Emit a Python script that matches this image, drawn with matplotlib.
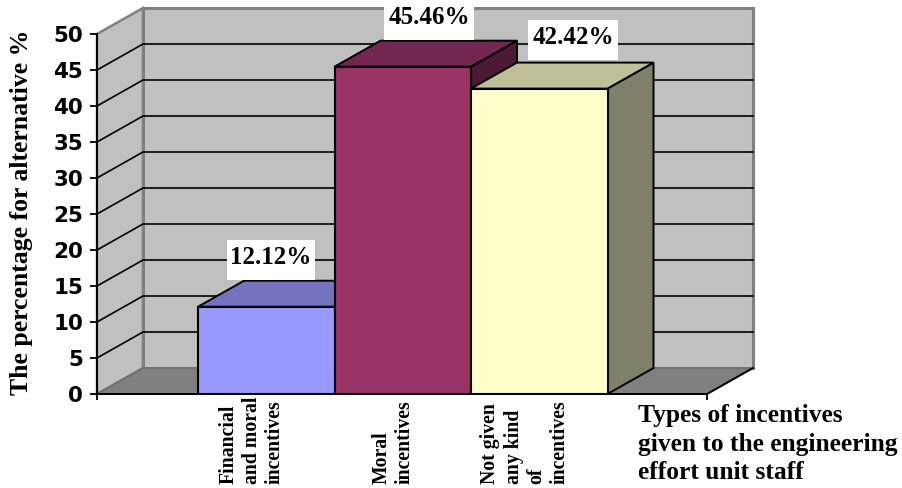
import matplotlib
matplotlib.use('Agg')
import matplotlib.pyplot as plt
from matplotlib.patches import Polygon

categories = ['Financial\nand moral\nincentives', 'Moral\nincentives', 'Not given\nany kind\nof\nincentives']
values = [12.12, 45.46, 42.42]
value_labels = ['12.12%', '45.46%', '42.42%']
y_ticks = [0, 5, 10, 15, 20, 25, 30, 35, 40, 45, 50]
front_colors = ['#9999ff', '#993366', '#ffffcc']
top_colors = ['#7373bf', '#732650', '#bfbf99']
side_colors = ['#5c5c99', '#4d1a33', '#80806a']

W, H = 902, 488
SERIF = 'Liberation Serif'

# plot box in pixels, one bar is one x unit
X0, X1, Y0, Y50 = 97, 707, 394, 34
BAR_PX = 136.5
X_MIN = -(198 - 97) / BAR_PX - 0.5
X_MAX = X_MIN + (X1 - X0) / BAR_PX
DX = 46 / BAR_PX
DY = 26 / ((Y0 - Y50) / 50)

fig = plt.figure(figsize=(W / 100, H / 100), dpi=100)
ax = fig.add_axes([X0 / W, 1 - Y0 / H, (X1 - X0) / W, (Y0 - Y50) / H])
ax.set_xlim(X_MIN, X_MAX)
ax.set_ylim(0, 50)
ax.patch.set_visible(False)


def poly(pts, face, edge='black', lw=1.4, z=2):
    ax.add_patch(Polygon(pts, closed=True, facecolor=face, edgecolor=edge, linewidth=lw,
                         zorder=z, clip_on=False, joinstyle='miter'))


# walls and floor
poly([(X_MIN, 0), (X_MIN + DX, DY), (X_MIN + DX, 50 + DY), (X_MIN, 50)], '#c0c0c0', '#808080', 1.8, 1)
poly([(X_MIN + DX, DY), (X_MAX + DX, DY), (X_MAX + DX, 50 + DY), (X_MIN + DX, 50 + DY)], '#c0c0c0', '#808080', 2.2, 1)
poly([(X_MIN, 0), (X_MAX, 0), (X_MAX + DX, DY), (X_MIN + DX, DY)], '#808080', '#6e6e6e', 1.2, 1.2)
ax.plot([X_MIN, X_MAX, X_MAX + DX], [0, 0, DY], color='black', lw=1.4, zorder=1.3, clip_on=False)

# grid lines, side wall and back wall
for t in y_ticks[1:-1]:
    ax.plot([X_MIN, X_MIN + DX, X_MAX + DX], [t, t + DY, t + DY], color='black', lw=1.2,
            zorder=1.4, clip_on=False, solid_joinstyle='miter')

# bars, left to right so each one covers the side of the last
for i, v in enumerate(values):
    left, right = i - 0.5, i + 0.5
    z = 3 + i
    poly([(right, 0), (right + DX, DY), (right + DX, v + DY), (right, v)], side_colors[i], z=z)
    poly([(left, v), (right, v), (right + DX, v + DY), (left + DX, v + DY)], top_colors[i], z=z)
    ax.bar(i, v, width=1, color=front_colors[i], edgecolor='black', linewidth=1.5, zorder=z + 0.5)

for side in ['top', 'right']:
    ax.spines[side].set_visible(False)
for side in ['left', 'bottom']:
    ax.spines[side].set_linewidth(1.4)
    ax.spines[side].set_zorder(2.5)
ax.set_yticks(y_ticks)
ax.set_xticks([X_MIN, X_MAX])
ax.set_xticklabels([])
ax.tick_params(axis='y', length=5, width=1.3, pad=5)
ax.tick_params(axis='x', length=4, width=1.3)
for lab in ax.get_yticklabels():
    lab.set_fontfamily('DejaVu Sans')
    lab.set_fontweight('bold')
    lab.set_fontsize(15.5)

# white value boxes
label_pos = [(271, 260), (429, 20), (573, 40)]
box_sizes = [(88, 40), (90, 40), (90, 40)]
for txt, (px, py), (bw, bh) in zip(value_labels, label_pos, box_sizes):
    fig.patches.append(plt.Rectangle(((px - bw / 2) / W, 1 - (py + bh / 2) / H), bw / W, bh / H,
                                     transform=fig.transFigure, facecolor='white', edgecolor='none', zorder=10))
    fig.text(px / W, 1 - (py - 2) / H, txt, ha='center', va='center', family=SERIF,
             fontweight='bold', fontsize=18, zorder=11)

# category labels, rotated and left aligned from the bottom
cat_x = [252, 393, 525]
for txt, px in zip(categories, cat_x):
    fig.text(px / W, 1 - 484 / H, txt, rotation=90, ha='center', va='bottom', multialignment='left',
             family=SERIF, fontweight='bold', fontsize=14.2, linespacing=1.2, zorder=11)

fig.text(22 / W, 1 - 212 / H, 'The percentage for alternative %', rotation=90, ha='center', va='center',
         family=SERIF, fontweight='bold', fontsize=18.5)
fig.text(638 / W, 1 - 444 / H, 'Types of incentives\ngiven to the engineering\neffort unit staff',
         ha='left', va='center', family=SERIF, fontweight='bold', fontsize=18.4, linespacing=1.3)

fig.savefig('out.png', dpi=100)
